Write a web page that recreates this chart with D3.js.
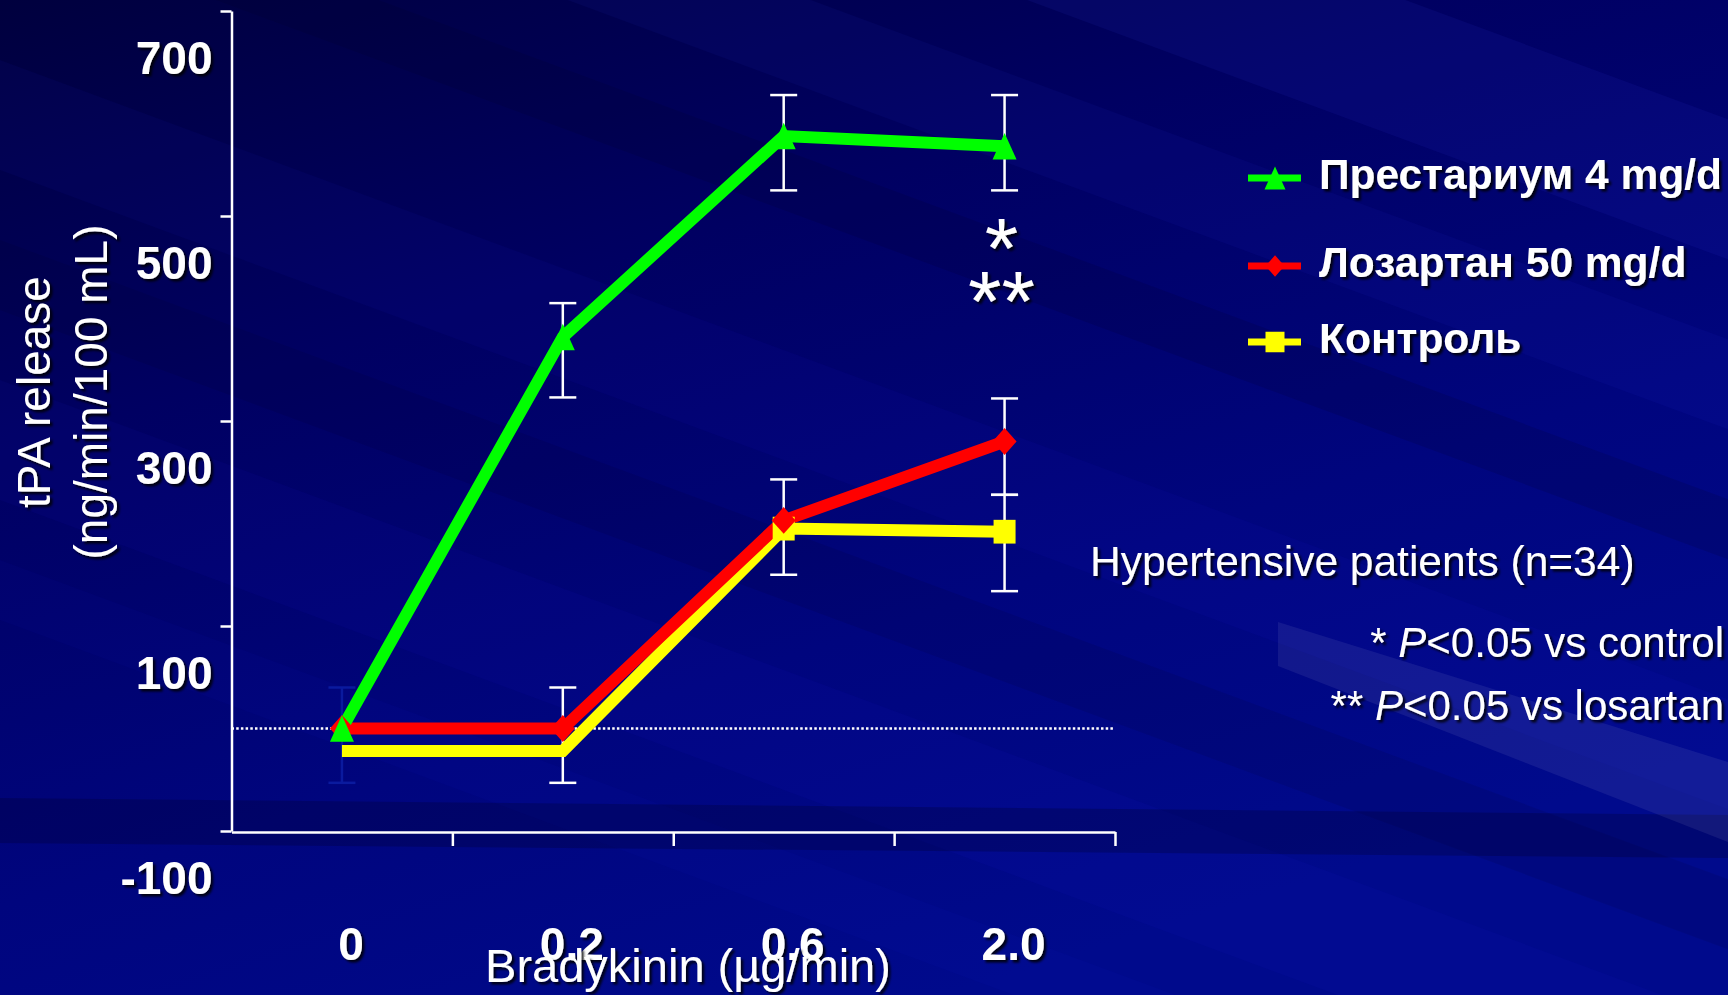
<!DOCTYPE html>
<html>
<head>
<meta charset="utf-8">
<script src="https://cdn.jsdelivr.net/npm/d3@7"></script>
<style>
html, body { margin: 0; padding: 0; background: #000060; overflow: hidden; }
svg { display: block; }
text { font-family: "Liberation Sans", Arial, sans-serif; fill: #fff; }
</style>
</head>
<body>
<svg id="chart"></svg>
<script>
// data
var doses = ["0", "0.2", "0.6", "2.0"];
var prestarium = [0, 382, 578, 568];
var losartan = [0, 0, 203, 280];
var control = [-22, -22, 195, 192];
// error bars [low, high], null where none is drawn
var prestariumErr = [[-53, 40], [323, 415], [525, 618], [525, 618]];
var losartanErr = [null, [-53, 40], [150, 243], [228, 322]];
var controlErr = [null, null, null, [134, 228]];
var controlMarked = [false, false, true, true];
var yTicks = [700, 500, 300, 100, -100];
var legendNames = ["Престариум 4 mg/d", "Лозартан 50 mg/d", "Контроль"];

var W = 1728, H = 995;
var svg = d3.select("#chart").attr("width", W).attr("height", H);
var defs = svg.append("defs");

// background
var grad = defs.append("linearGradient").attr("id", "bg")
    .attr("x1", 0).attr("y1", 0).attr("x2", 0.55).attr("y2", 1);
grad.append("stop").attr("offset", 0).attr("stop-color", "#00003e");
grad.append("stop").attr("offset", 0.35).attr("stop-color", "#000062");
grad.append("stop").attr("offset", 0.7).attr("stop-color", "#00057e");
grad.append("stop").attr("offset", 1).attr("stop-color", "#000a8c");
svg.append("rect").attr("width", W).attr("height", H).attr("fill", "url(#bg)");

// diagonal streaks of the slide template: [y at x=0, thickness, colour, opacity]
var streaks = [
    [-520, 140, "#3a4cff", 0.08],
    [-300, 90, "#3a4cff", 0.06],
    [-140, 60, "#000020", 0.14],
    [60, 110, "#2030ff", 0.05],
    [240, 70, "#000020", 0.10],
    [380, 120, "#2030ff", 0.05],
    [560, 60, "#2030ff", 0.04]
];
var slope = 0.37;
svg.selectAll(".streak").data(streaks).enter().append("path")
    .attr("class", "streak")
    .attr("d", function (s) {
        return "M0," + s[0] + "L" + W + "," + (s[0] + slope * W) +
            "L" + W + "," + (s[0] + slope * W + s[1]) + "L0," + (s[0] + s[1]) + "Z";
    })
    .attr("fill", function (s) { return s[2]; })
    .attr("fill-opacity", function (s) { return s[3]; });
svg.append("path")
    .attr("d", "M0,798L" + W + ",815L" + W + ",858L0,843Z")
    .attr("fill", "#000030").attr("fill-opacity", 0.28);
svg.append("path")
    .attr("d", "M1278,622L1728,762L1728,842L1278,666Z")
    .attr("fill", "#ffffff").attr("fill-opacity", 0.07);

// text shadow
var f = defs.append("filter").attr("id", "shadow")
    .attr("x", "-10%").attr("y", "-20%").attr("width", "130%").attr("height", "150%");
f.append("feDropShadow").attr("dx", 2.5).attr("dy", 2.5).attr("stdDeviation", 1)
    .attr("flood-color", "#000").attr("flood-opacity", 0.85);

// scales
var x = d3.scaleBand().domain(doses).range([231.5, 1115]);
var xTick = d3.scaleLinear().domain([0, doses.length]).range([231.5, 1115]);
var y = d3.scaleLinear().domain([-100, 700]).range([831, 11]);
function cx(i) { return x(doses[i]) + x.bandwidth() / 2; }

// axes
var yAxis = svg.append("g").attr("transform", "translate(231.5,0)")
    .call(d3.axisLeft(y).tickValues(yTicks).tickSize(11).tickSizeOuter(0)
        .tickFormat(function (d) { return String(d); }));
yAxis.selectAll("path, line").attr("stroke", "#fff").attr("stroke-width", 2.5);
yAxis.selectAll("text")
    .attr("x", -19).attr("y", 62).attr("dy", null)
    .attr("fill", "#fff").style("font-size", "46px").style("font-weight", "bold")
    .attr("filter", "url(#shadow)");

var xAxis = svg.append("g").attr("transform", "translate(0,832)")
    .call(d3.axisBottom(xTick).tickValues([1, 2, 3, 4]).tickSize(14).tickSizeOuter(0).tickFormat(""));
xAxis.selectAll("path, line").attr("stroke", "#fff").attr("stroke-width", 2.5);

svg.selectAll(".xlab").data(doses).enter().append("text")
    .attr("class", "xlab")
    .attr("x", function (d, i) { return cx(i) + 9; })
    .attr("y", 960)
    .attr("text-anchor", "middle")
    .style("font-size", "46px").style("font-weight", "bold")
    .attr("filter", "url(#shadow)")
    .text(function (d) { return d; });

// zero reference line
svg.append("line")
    .attr("x1", 231.5).attr("x2", 1115).attr("y1", y(0)).attr("y2", y(0))
    .attr("stroke", "#fff").attr("stroke-width", 2.5).attr("stroke-dasharray", "2.5,2.2");

// error bars
var errs = [];
[prestariumErr, losartanErr, controlErr].forEach(function (arr) {
    arr.forEach(function (e, i) { if (e) errs.push({ i: i, lo: e[0], hi: e[1] }); });
});
var eb = svg.selectAll(".err").data(errs).enter().append("g").attr("class", "err")
    .attr("stroke", function (d) { return d.i === 0 ? "#0a1a9e" : "#fff"; })
    .attr("stroke-width", 2.5);
eb.append("line")
    .attr("x1", function (d) { return cx(d.i); }).attr("x2", function (d) { return cx(d.i); })
    .attr("y1", function (d) { return y(d.lo); }).attr("y2", function (d) { return y(d.hi); });
eb.append("line")
    .attr("x1", function (d) { return cx(d.i) - 13.5; }).attr("x2", function (d) { return cx(d.i) + 13.5; })
    .attr("y1", function (d) { return y(d.lo); }).attr("y2", function (d) { return y(d.lo); });
eb.append("line")
    .attr("x1", function (d) { return cx(d.i) - 13.5; }).attr("x2", function (d) { return cx(d.i) + 13.5; })
    .attr("y1", function (d) { return y(d.hi); }).attr("y2", function (d) { return y(d.hi); });

// marker shapes (size = width)
var triangle = { draw: function (ctx, w) { var h = w * 1.1; ctx.moveTo(0, -h / 2); ctx.lineTo(w / 2, h / 2); ctx.lineTo(-w / 2, h / 2); ctx.closePath(); } };
var diamond = { draw: function (ctx, w) { var h = w * 1.12; ctx.moveTo(0, -h / 2); ctx.lineTo(w / 2, 0); ctx.lineTo(0, h / 2); ctx.lineTo(-w / 2, 0); ctx.closePath(); } };
var square = { draw: function (ctx, w) { var h = w * 1.08; ctx.rect(-w / 2, -h / 2, w, h); } };

var series = [
    { name: legendNames[2], values: control, color: "#ffff00", shape: square, w: 22, lw: 19, marked: controlMarked },
    { name: legendNames[1], values: losartan, color: "#ff0000", shape: diamond, w: 24, lw: 19, marked: [true, true, true, true] },
    { name: legendNames[0], values: prestarium, color: "#00ff00", shape: triangle, w: 24, lw: 21, marked: [true, true, true, true] }
];

var line = d3.line().x(function (d, i) { return cx(i); }).y(function (d) { return y(d); });

series.forEach(function (s) {
    svg.append("path").datum(s.values)
        .attr("d", line)
        .attr("fill", "none").attr("stroke", s.color).attr("stroke-width", 12)
        .attr("stroke-linejoin", "miter").attr("stroke-miterlimit", 4);
});
series.forEach(function (s) {
    var pts = s.values.map(function (v, i) { return { i: i, v: v }; })
        .filter(function (p) { return s.marked[p.i]; });
    svg.selectAll(null).data(pts).enter().append("path")
        .attr("transform", function (p) { return "translate(" + cx(p.i) + "," + y(p.v) + ")"; })
        .attr("d", d3.symbol().type(s.shape).size(s.w))
        .attr("fill", s.color);
});

// significance asterisks
svg.append("text").attr("x", cx(3) - 3).attr("y", 278).attr("text-anchor", "middle")
    .style("font-size", "86px").attr("filter", "url(#shadow)").text("*");
svg.append("text").attr("x", cx(3) - 3).attr("y", 331).attr("text-anchor", "middle")
    .style("font-size", "86px").attr("filter", "url(#shadow)").text("**");

// legend
var legendY = [178, 266, 342];
var legendOrder = [series[2], series[1], series[0]];
legendOrder.forEach(function (s, k) {
    var g = svg.append("g").attr("transform", "translate(0," + legendY[k] + ")");
    g.append("line").attr("x1", 1248).attr("x2", 1301).attr("y1", 0).attr("y2", 0)
        .attr("stroke", s.color).attr("stroke-width", 7);
    g.append("path").attr("transform", "translate(1275,0)")
        .attr("d", d3.symbol().type(s.shape).size(s.lw)).attr("fill", s.color);
    g.append("text").attr("x", 1319).attr("y", 11)
        .style("font-size", "42.5px").style("font-weight", "bold")
        .attr("filter", "url(#shadow)").text(s.name);
});

// notes
svg.append("text").attr("x", 1090).attr("y", 576)
    .style("font-size", "42.5px").attr("filter", "url(#shadow)")
    .text("Hypertensive patients (n=34)");
var notes = [["* ", "vs control", 657], ["** ", "vs losartan", 720]];
notes.forEach(function (n) {
    var t = svg.append("text").attr("x", 1724).attr("y", n[2]).attr("text-anchor", "end")
        .style("font-size", "42px").attr("filter", "url(#shadow)");
    t.append("tspan").text(n[0]);
    t.append("tspan").style("font-style", "italic").text("P");
    t.append("tspan").text("<0.05 " + n[1]);
});

// axis titles
var yt = svg.append("g").attr("filter", "url(#shadow)");
yt.append("text").attr("transform", "translate(50,392) rotate(-90)")
    .attr("text-anchor", "middle").style("font-size", "46px").text("tPA release");
yt.append("text").attr("transform", "translate(107,392) rotate(-90)")
    .attr("text-anchor", "middle").style("font-size", "46px").text("(ng/min/100 mL)");
svg.append("text").attr("x", 688).attr("y", 982).attr("text-anchor", "middle")
    .style("font-size", "47px").attr("filter", "url(#shadow)")
    .text("Bradykinin (µg/min)");
</script>
</body>
</html>
